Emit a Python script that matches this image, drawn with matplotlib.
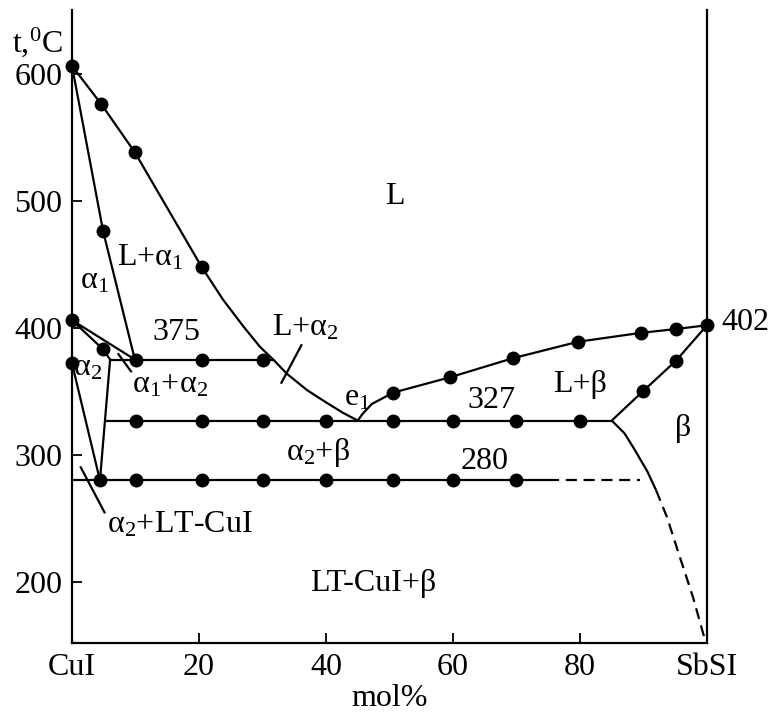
import matplotlib
matplotlib.use("Agg")
import matplotlib.pyplot as plt

plt.rcParams['font.family'] = ['Liberation Serif', 'DejaVu Serif']
plt.rcParams['mathtext.fontset'] = 'custom'
plt.rcParams['mathtext.rm'] = 'Liberation Serif'
plt.rcParams['mathtext.it'] = 'Liberation Serif:italic'

# ---- data (mol% SbSI, temperature in C) ----
liq_left_x = [0, 4.6, 9.9, 20.4, 23.8, 27.0, 29.6, 31.7, 33.8, 37.0, 40.1, 42.7, 45]
liq_left_t = [606, 576, 538, 448, 422, 401, 385, 375, 364, 351, 341, 333, 327]

sol_a1_x = [0, 4.9, 9.9]
sol_a1_t = [606, 476, 375]

a1_low_x = [0, 9.9]
a1_low_t = [406, 375]

a2_top_x = [0, 4.9, 6]
a2_top_t = [406, 383, 375]

line375_x = [6, 31.7]
line375_t = [375, 375]

a2_left_x = [0, 4.4]
a2_left_t = [372, 280]

a2_right_x = [6, 4.4]
a2_right_t = [375, 280]

line327_x = [5.2, 85]
line327_t = [327, 327]

line280_x = [0, 75]
line280_t = [280, 280]
line280_dash_x = [75, 89.5]
line280_dash_t = [280, 280]

liq_right_x = [45, 45.8, 47.2, 50.6, 59.5, 69.4, 79.7, 89.6, 95.1, 100]
liq_right_t = [327, 332.5, 340, 349, 361, 376, 389, 396, 399, 402]

sol_beta_x = [100, 95.1, 89.9, 85]
sol_beta_t = [402, 374, 350, 327]

solvus_x = [85, 87, 88.5, 90.6, 92]
solvus_t = [327, 317, 305, 287, 272]
solvus_dash_x = [92, 93.7, 95.7, 97.8, 99.7]
solvus_dash_t = [272, 251, 220, 188, 154]

dots_x = [0, 4.6, 9.9, 20.4, 4.9, 0, 0, 4.9,
          10, 20.5, 30,
          10, 20.5, 30, 40, 50.5, 60, 70, 80,
          4.4, 10, 20.5, 30, 40, 50.5, 60, 70,
          50.6, 59.5, 69.4, 79.7, 89.6, 95.1, 100,
          95.1, 89.9]
dots_t = [606, 576, 538, 448, 476, 406, 372, 383,
          375, 375, 375,
          327, 327, 327, 327, 327, 327, 327, 327,
          280, 280, 280, 280, 280, 280, 280, 280,
          349, 361, 376, 389, 396, 399, 402,
          374, 350]

leader_a12_x = [7.2, 9.4]
leader_a12_t = [380, 365]
leader_la2_x = [36.2, 32.9]
leader_la2_t = [387, 356]
leader_lt_x = [1.3, 5.2]
leader_lt_t = [291, 254]

xticks = [0, 20, 40, 60, 80, 100]
xtick_labels = ['CuI', '20', '40', '60', '80', 'SbSI']
yticks = [200, 300, 400, 500, 600]

# ---- figure ----
fig = plt.figure(figsize=(7.74, 7.13), dpi=100)
ax = fig.add_axes([72/774, 70/713, (707-72)/774, (703-70)/713])

lw = 1.6
kw = dict(color='black', lw=lw, solid_capstyle='butt')
for xs, ts in [(liq_left_x, liq_left_t), (sol_a1_x, sol_a1_t), (a1_low_x, a1_low_t),
               (a2_top_x, a2_top_t), (line375_x, line375_t), (a2_left_x, a2_left_t),
               (a2_right_x, a2_right_t), (line327_x, line327_t), (line280_x, line280_t),
               (liq_right_x, liq_right_t), (sol_beta_x, sol_beta_t), (solvus_x, solvus_t),
               (leader_a12_x, leader_a12_t), (leader_la2_x, leader_la2_t),
               (leader_lt_x, leader_lt_t)]:
    ax.plot(xs, ts, **kw)
for xs, ts in [(line280_dash_x, line280_dash_t), (solvus_dash_x, solvus_dash_t)]:
    ax.plot(xs, ts, color='black', lw=lw, linestyle=(0, (5, 3)))

ax.plot(dots_x, dots_t, 'o', color='black', markersize=9, clip_on=False, zorder=5)

ax.set_xlim(0, 100)
ax.set_ylim(152, 650)
ax.spines['top'].set_visible(False)
for s in ['left', 'right', 'bottom']:
    ax.spines[s].set_linewidth(1.6)
ax.set_xticks(xticks)
ax.set_xticklabels(xtick_labels)
ax.set_yticks(yticks)
fs = 23
ax.tick_params(direction='in', length=7, width=1.3, labelsize=fs, pad=7)
ax.set_xlabel('mol%', fontsize=fs, labelpad=2)

def lab(x, t, s, **k):
    ax.text(x, t, s, fontsize=fs, ha='center', va='center', **k)

lab(50.8, 503, 'L')
lab(12.3, 455, 'L+α$_1$')
lab(3.6, 437, 'α$_1$')
lab(16.5, 396, '375')
lab(36.7, 400, 'L+α$_2$')
lab(2.5, 368, 'α$_2$')
lab(15.4, 355, 'α$_1$+α$_2$')
lab(44.9, 345, 'e$_1$')
lab(66, 343, '327')
lab(80, 355, 'L+β')
lab(96.2, 321, 'β')
lab(38.7, 302, 'α$_2$+β')
lab(65, 295, '280')
lab(17, 245, 'α$_2$+LT-CuI')
lab(47.5, 199, 'LT-CuI+β')
ax.text(102.2, 404, '402', fontsize=fs, ha='left', va='center', clip_on=False)
fig.text(37/774, 1-42/713, 't,$^0$C', fontsize=fs, ha='center', va='center')

fig.savefig('out.png', dpi=100)
